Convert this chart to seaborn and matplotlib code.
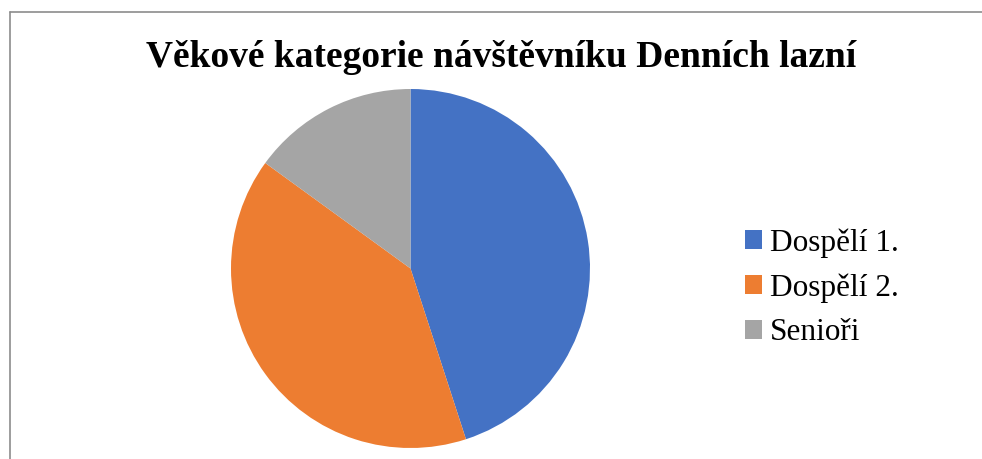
import matplotlib
matplotlib.use('Agg')
import matplotlib.pyplot as plt
from matplotlib.patches import Patch
from matplotlib.lines import Line2D
import seaborn as sns

# data
categories = ["Dospělí 1.", "Dospělí 2.", "Senioři"]
shares = [45, 40, 15]
title = "Věkové kategorie návštěvníku Denních lazní"

sns.set_theme(style="white")
plt.rcParams['font.family'] = ['Liberation Serif', 'DejaVu Serif']

colors = sns.color_palette(["#4472C4", "#ED7D31", "#A5A5A5"])

W, H = 982, 459
fig = plt.figure(figsize=(W / 100, H / 100), dpi=100)

# frame (only left and top edges are visible in the crop)
fig.add_artist(Line2D([9.5 / W, 9.5 / W], [-0.01, 1 - 12 / H], transform=fig.transFigure,
                      color="#8c8c8c", lw=1.2))
fig.add_artist(Line2D([9.5 / W, 1.01], [1 - 12 / H, 1 - 12 / H], transform=fig.transFigure,
                      color="#8c8c8c", lw=1.2))

# pie
cx, cy, r = 410.5, 268.5, 179.5
ax = fig.add_axes([(cx - r) / W, (H - cy - r) / H, 2 * r / W, 2 * r / H])
ax.pie(shares, colors=colors, startangle=90, counterclock=False, radius=1,
       wedgeprops={"linewidth": 0})
ax.set_xlim(-1, 1)
ax.set_ylim(-1, 1)
ax.set_aspect("equal")
ax.axis("off")

fig.text(501.5 / W, 1 - 67 / H, title, ha="center", va="baseline",
         fontsize=27, fontweight="bold", color="black")

handles = [Patch(facecolor=c, edgecolor="none") for c in colors]
leg = fig.legend(handles, categories, loc="upper left",
                 bbox_to_anchor=(745 / W, 1 - 228 / H), frameon=False,
                 fontsize=22.5, handlelength=0.55, handleheight=0.55, handletextpad=0.26,
                 labelspacing=0.5, borderpad=0, borderaxespad=0)
for t in leg.get_texts():
    t.set_color("black")

fig.savefig("out.png", dpi=100)
